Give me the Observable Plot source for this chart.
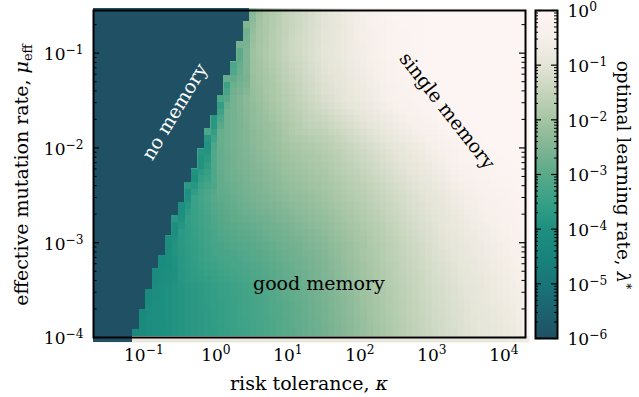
<!DOCTYPE html>
<html>
<head>
<meta charset="utf-8">
<script src="https://cdn.jsdelivr.net/npm/d3@7"></script>
<script src="https://cdn.jsdelivr.net/npm/@observablehq/plot@0.6"></script>
<style>
html, body { margin: 0; padding: 0; background: #fff; }
#chart { position: relative; width: 639px; height: 397px; }
#chart svg { position: absolute; left: 0; top: 0; overflow: visible; }
</style>
</head>
<body>
<div id="chart"></div>
<script>
// ---------------- data ----------------
// sample grid: log10 risk tolerance (columns) and log10 effective mutation rate (rows)
const logKappaCols = [-1.5, -1, -0.5, 0, 0.5, 1, 1.5, 2, 2.5, 3, 3.5, 4, 4.3];
const logMuRows    = [-4, -3.5, -3, -2.5, -2, -1.5, -1, -0.55];
// log10 of optimal learning rate λ* (null = inside the "no memory" region)
const logLambda = [
  [null, -4.1, -3.85, -3.6, -3.35, -3.05, -2.7, -2.25, -1.8, -1.4, -1.1, -0.85, -0.65],
  [null, null, -3.85, -3.55, -3.3, -2.95, -2.6, -2.15, -1.7, -1.3, -1.0, -0.7, -0.5],
  [null, null, null, -3.25, -3.0, -2.7, -2.4, -2.0, -1.55, -1.15, -0.8, -0.5, -0.3],
  [null, null, null, -3.0, -2.6, -2.3, -2.05, -1.7, -1.3, -0.95, -0.55, -0.25, -0.1],
  [null, null, null, -2.9, -2.4, -2.0, -1.75, -1.35, -0.95, -0.55, -0.1, 0, 0],
  [null, null, null, null, -2.25, -1.7, -1.2, -0.8, -0.37, -0.05, 0, 0, 0],
  [null, null, null, null, -2.1, -1.45, -1.0, -0.6, -0.2, 0, 0, 0, 0],
  [null, null, null, null, null, -1.52, -1.05, -0.55, -0.1, 0, 0, 0, 0]
];
// first cell right of the no-memory edge, per row
const edgeLogKappa  = [-1.11, -0.93, -0.66, -0.385, -0.115, 0.066, 0.337, 0.517];
const edgeLogLambda = [-4.3, -4.25, -4.15, -4.0, -3.9, -3.7, -3.0, -2.4];
const nearLogKappa  = [null, -0.81, -0.54, -0.27, null, 0.19, null, 0.64];
const nearLogLambda = [null, -4.05, -3.8, -3.4, null, -2.7, null, -2.0];
// "no memory" staircase: number of dark cells in each of the 50 heatmap rows (top to bottom)
const darkCols = [24,24,23,23,23,22,22,22,21,21,20,20,20,19,19,19,18,18,17,17,17,16,16,16,
                  15,15,14,14,14,13,13,12,12,12,11,11,11,10,10,9,9,9,8,8,8,7,7,7,6,6];

// ticks
const xTicks = [1e-1, 1e0, 1e1, 1e2, 1e3, 1e4];
const yTicks = [1e-4, 1e-3, 1e-2, 1e-1];
const cbTicks = [1e-6, 1e-5, 1e-4, 1e-3, 1e-2, 1e-1, 1e0];

// annotations
const annotations = [
  {text: "no memory", logK: -0.57, logMu: -1.62, angle: -59},
  {text: "single memory", logK: 3.21, logMu: -1.61, angle: 52},
  {text: "good memory", logK: 1.43, logMu: -3.43, angle: 0}
];

// colour map (log10 λ*)
const colorStops = [-6, -5.5, -5, -4.5, -4, -3.5, -3, -2.5, -2, -1.5, -1, -0.5, 0];
const colorRamp = ["#1f5063","#1c6370","#197578","#18847c","#1d8f80","#37a086","#5aaa8a",
                   "#80b594","#a5c5a3","#c5d4bc","#e5e5d8","#f6efea","#fdf5f3"];

// ---------------- build ----------------
const gridK0 = -1.694, gridK1 = 4.354, gridM0 = -4.0526, gridM1 = -0.526;
const nCols = 67, nRows = 50;
const dK = (gridK1 - gridK0) / nCols, dM = (gridM1 - gridM0) / nRows;

const points = [];
logMuRows.forEach((lm, i) => {
  logKappaCols.forEach((lk, j) => {
    const v = logLambda[i][j];
    if (v != null) points.push({kappa: 10 ** lk, mu: 10 ** lm, v});
  });
  points.push({kappa: 10 ** edgeLogKappa[i], mu: 10 ** lm, v: edgeLogLambda[i]});
  if (nearLogKappa[i] != null) points.push({kappa: 10 ** nearLogKappa[i], mu: 10 ** lm, v: nearLogLambda[i]});
});

const noMem = darkCols.map((c, r) => ({
  k1: 10 ** gridK0,
  k2: 10 ** (gridK0 + c * dK),
  m1: 10 ** (gridM1 - (r + 1) * dM),
  m2: 10 ** (gridM1 - r * dM),
  v: -6
}));

const minorsOf = (lo, hi) => {
  const out = [];
  for (let e = lo; e <= hi; e++) for (let m = 2; m <= 9; m++) out.push(m * 10 ** e);
  return out;
};
const yMinor = minorsOf(-4, -1).filter(d => d < 10 ** -0.55);
const cbMinor = minorsOf(-6, -1);

const fmt = d => "10^" + String(Math.round(Math.log10(d))).replace("-", "\u2212");
const colorOpts = {type: "linear", domain: colorStops, range: colorRamp, clamp: true};
const baseStyle = {fontFamily: "DejaVu Serif", fontSize: "17px", background: "transparent", overflow: "visible", color: "black"};

const frameW = 432;
const main = Plot.plot({
  width: 639, height: 397,
  marginLeft: 93, marginRight: 114, marginTop: 10, marginBottom: 60,
  style: baseStyle,
  x: {type: "log", domain: [10 ** -1.7, 10 ** 4.3]},
  y: {type: "log", domain: [1e-4, 10 ** -0.55]},
  color: colorOpts,
  marks: [
    Plot.raster(points, {
      x: "kappa", y: "mu", fill: "v", interpolate: "barycentric",
      width: nCols, height: nRows,
      x1: 10 ** gridK0, x2: 10 ** gridK1, y1: 10 ** gridM0, y2: 10 ** gridM1,
      imageRendering: "pixelated"
    }),
    Plot.rect(noMem, {x1: "k1", x2: "k2", y1: "m1", y2: "m2", fill: d => d.v, shapeRendering: "crispEdges"}),
    Plot.tickY(yTicks, {insetRight: frameW - 6, stroke: "black", strokeWidth: 1.2}),
    Plot.tickY(yTicks, {insetLeft: frameW - 6, stroke: "black", strokeWidth: 1.2}),
    Plot.tickY(yMinor, {insetRight: frameW - 3.5, stroke: "black", strokeWidth: 1}),
    Plot.tickY(yMinor, {insetLeft: frameW - 3.5, stroke: "black", strokeWidth: 1}),
    Plot.frame({stroke: "black", strokeWidth: 2}),
    Plot.axisX(xTicks, {tickSize: 0, tickPadding: 11, tickFormat: fmt, label: null, fontSize: 17}),
    Plot.axisY(yTicks, {tickSize: 0, tickPadding: 10, tickFormat: fmt, label: null, fontSize: 17, dy: 1.5}),
    Plot.text(annotations.filter(d => d.text === "no memory"), {
      x: d => 10 ** d.logK, y: d => 10 ** d.logMu, text: "text", rotate: -59, fill: "white", fontSize: 19
    }),
    Plot.text(annotations.filter(d => d.text !== "no memory"), {
      x: d => 10 ** d.logK, y: d => 10 ** d.logMu, text: "text", rotate: d => d.angle, fill: "black", fontSize: 19
    })
  ]
});

const cbW = 22;
const cbar = Plot.plot({
  width: 639, height: 397,
  marginLeft: 535, marginRight: 82, marginTop: 10, marginBottom: 59,
  style: baseStyle,
  x: {domain: [0, 1], axis: null},
  y: {type: "log", domain: [1e-6, 1]},
  color: colorOpts,
  marks: [
    Plot.raster({fill: (x, y) => Math.log10(y), x1: 0, x2: 1, y1: 1e-6, y2: 1, pixelSize: 1}),
    Plot.tickY(cbTicks, {insetRight: cbW - 6, stroke: "black", strokeWidth: 1.2}),
    Plot.tickY(cbTicks, {insetLeft: cbW - 6, stroke: "black", strokeWidth: 1.2}),
    Plot.tickY(cbMinor, {insetRight: cbW - 3, stroke: "black", strokeWidth: 1}),
    Plot.tickY(cbMinor, {insetLeft: cbW - 3, stroke: "black", strokeWidth: 1}),
    Plot.frame({stroke: "black", strokeWidth: 2}),
    Plot.axisY(cbTicks, {anchor: "right", tickSize: 0, tickPadding: 10, tickFormat: fmt, label: null, fontSize: 17, dy: 1.5})
  ]
});

const chart = document.getElementById("chart");
chart.appendChild(main);
chart.appendChild(cbar);

// superscripts for 10^k labels
function supify(svgEl) {
  d3.select(svgEl).selectAll("text").each(function () {
    const m = /^10\^(.+)$/.exec(this.textContent);
    if (m) {
      const sel = d3.select(this);
      sel.text(null);
      sel.append("tspan").text("10");
      sel.append("tspan").attr("dy", "-0.5em").attr("font-size", "0.72em").text(m[1]);
    }
  });
}
supify(main);
supify(cbar);

// axis titles
const svg = d3.select(main);
const font = "DejaVu Serif";
const yl = svg.append("text").attr("transform", "translate(28,175) rotate(-90)")
  .attr("text-anchor", "middle").attr("font-family", font).attr("font-size", 19).attr("fill", "black");
yl.append("tspan").text("effective mutation rate, ");
yl.append("tspan").attr("font-style", "italic").text("μ");
yl.append("tspan").attr("font-size", 13).attr("dy", 4).text("eff");

const xl = svg.append("text").attr("x", 309).attr("y", 390)
  .attr("text-anchor", "middle").attr("font-family", font).attr("font-size", 19).attr("fill", "black");
xl.append("tspan").text("risk tolerance, ");
xl.append("tspan").attr("font-style", "italic").text("κ");

const cl = d3.select(cbar).append("text").attr("transform", "translate(617,175) rotate(90)")
  .attr("text-anchor", "middle").attr("font-family", font).attr("font-size", 18.5).attr("fill", "black");
cl.append("tspan").text("optimal learning rate, ");
cl.append("tspan").attr("font-style", "italic").text("λ");
cl.append("tspan").attr("font-size", 12).attr("dy", -5).text("*");
</script>
</body>
</html>
